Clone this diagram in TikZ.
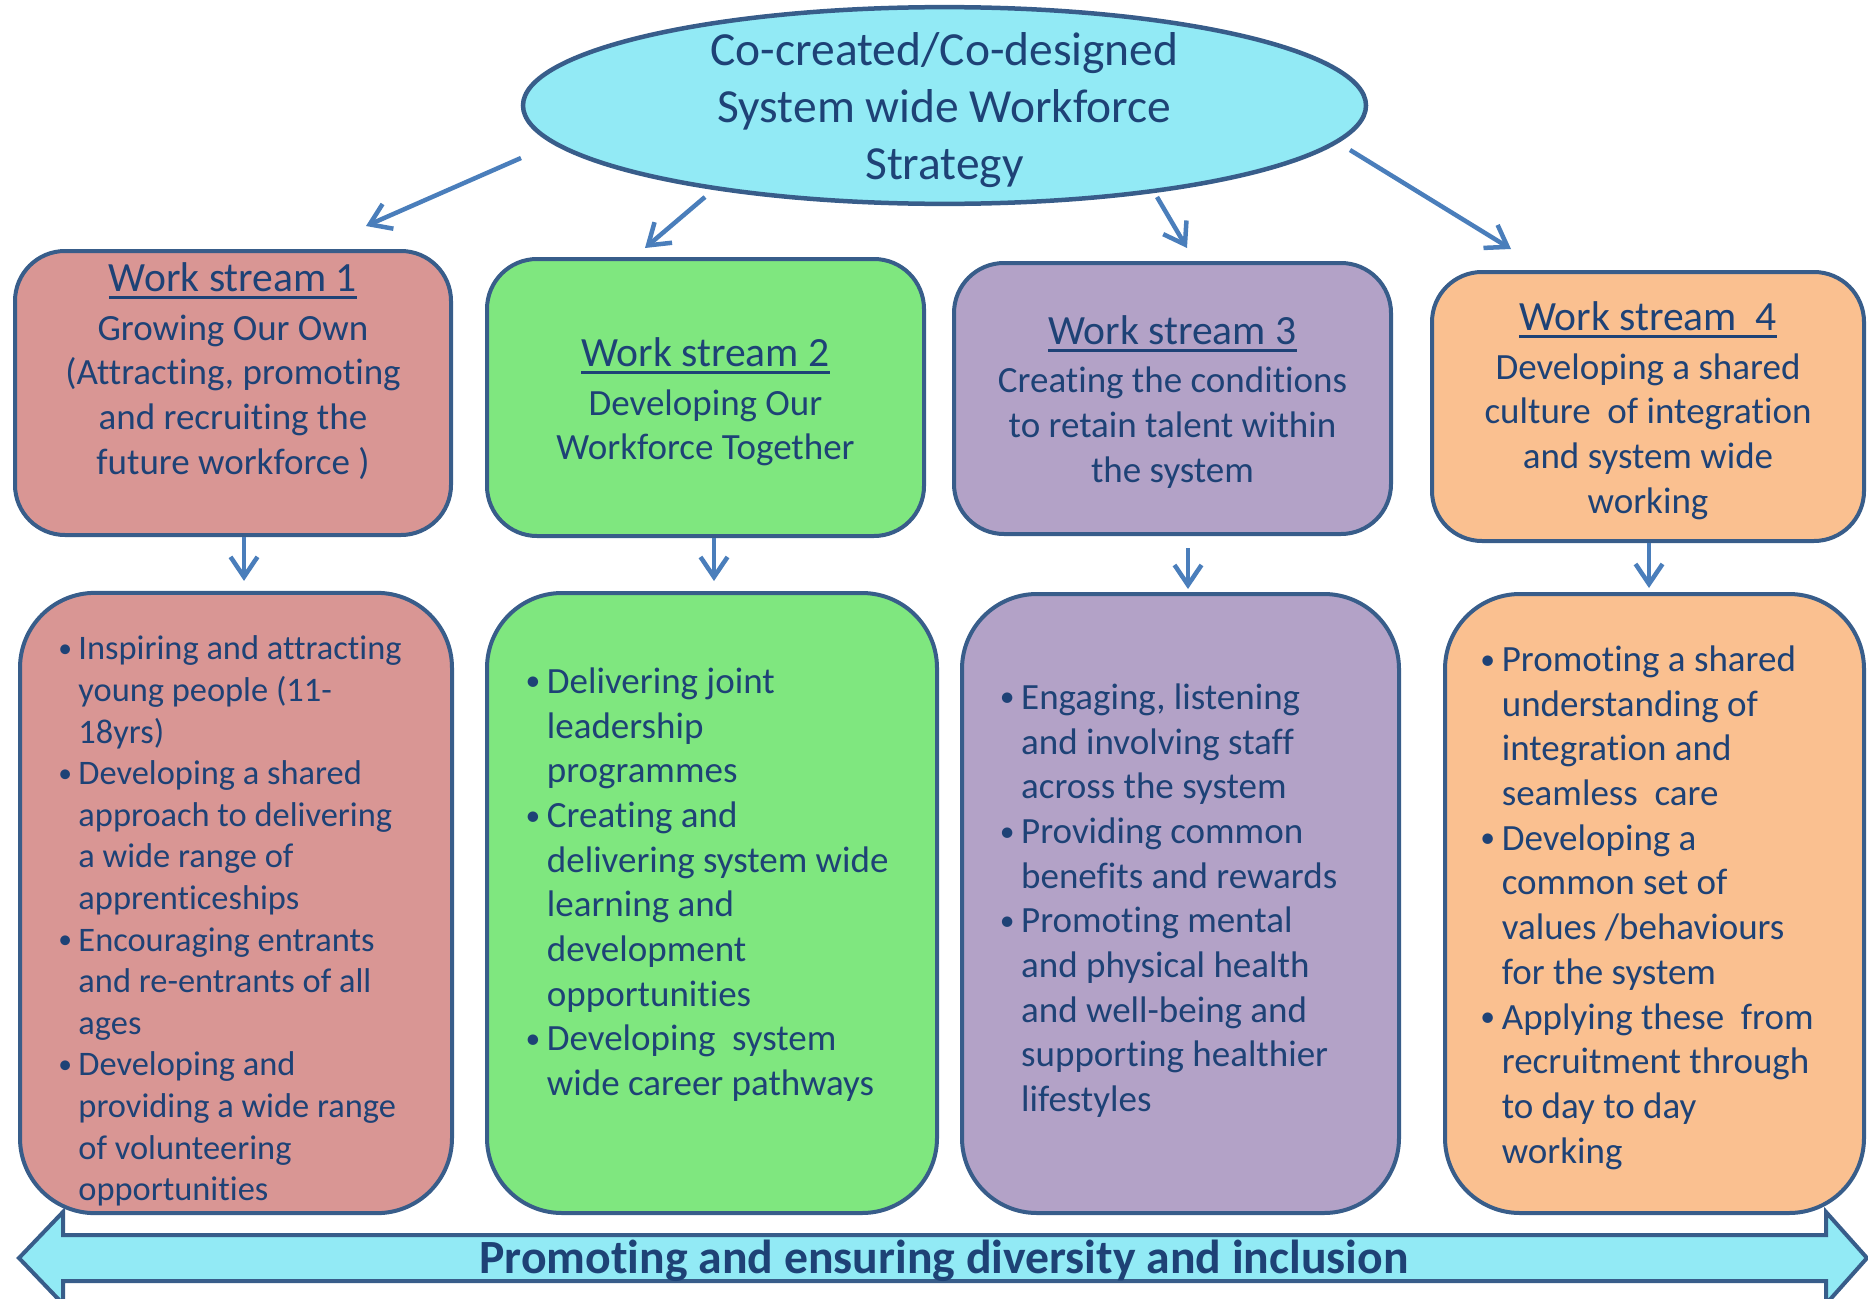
\documentclass[tikz,border=0pt]{standalone}
\usepackage{fontspec}
\usepackage{graphicx}
\setmainfont{Carlito}[Ligatures=NoCommon]
\usetikzlibrary{arrows.meta,shapes.geometric}

\definecolor{edge}{RGB}{56,93,138}
\definecolor{ink}{RGB}{30,66,118}
\definecolor{flowblue}{RGB}{74,126,187}
\definecolor{skyfill}{RGB}{146,234,245}
\definecolor{rosefill}{RGB}{217,150,148}
\definecolor{greenfill}{RGB}{127,231,127}
\definecolor{lilacfill}{RGB}{179,162,199}
\definecolor{peachfill}{RGB}{250,192,144}

\newcommand\wstitle[1]{{\fontsize{41.6}{49}\selectfont\setbox0\hbox{#1}\rlap{\rule[-7.5pt]{\wd0}{3pt}}\box0}}
\newcommand\bul{\rlap{\hspace{-2pt}\raisebox{2.4pt}{\scalebox{0.8}{\textbullet}}}\phantom{\textbullet}}

\begin{document}
\begin{tikzpicture}[x=1pt, y=-1pt,
	strategy/.style={ellipse, draw=edge, fill=skyfill, line width=4.5pt, inner xsep=0pt, inner ysep=-22pt, text=ink, font=\fontsize{47.5}{57}\selectfont},
	streambox/.style={rectangle, rounded corners=50pt, draw=edge, line width=4pt, inner sep=0pt, text=ink, font=\fontsize{37}{44.7}\selectfont},
	detailbox/.style={rectangle, rounded corners=75pt, draw=edge, line width=4pt, inner sep=0pt, text=ink, font=\fontsize{37}{44.7}\selectfont},
	flow/.style={draw=flowblue, line width=4.5pt, -{Straight Barb[length=20pt,width=27pt]}},
	banner/.style={draw=edge, fill=skyfill, line width=4pt},
	]
	\useasboundingbox (0,0) rectangle (1868,1298);
	
	%Nodes
	\node[strategy, minimum width=843pt, minimum height=195pt] (strat) at (944.5,105.5)
		{\begin{tabular}{@{}c@{}}\rule{0pt}{52pt}Co-created/Co-designed\\ System wide Workforce\\ Strategy\end{tabular}};
	
	\node[streambox, fill=rosefill, minimum width=436pt, minimum height=284pt] (ws1) at (233,393)
		{\begin{tabular}{@{}c@{}}\wstitle{Work stream 1}\\[4pt] Growing Our Own\\ (Attracting, promoting\\ and recruiting the\\ future workforce )\\[38pt]\end{tabular}};
	\node[streambox, fill=greenfill, minimum width=437pt, minimum height=277pt] (ws2) at (705.5,397.5)
		{\begin{tabular}{@{}c@{}}\rule{0pt}{45pt}\wstitle{Work stream 2}\\[4pt] Developing Our\\ Workforce Together\end{tabular}};
	\node[streambox, fill=lilacfill, minimum width=437pt, minimum height=271pt] (ws3) at (1172.5,398.5)
		{\begin{tabular}{@{}c@{}}\rule{0pt}{43pt}\wstitle{Work stream 3}\\[4pt] Creating the conditions\\ to retain talent within\\ the system\end{tabular}};
	\node[streambox, fill=peachfill, minimum width=432pt, minimum height=269pt] (ws4) at (1648,406.5)
		{\begin{tabular}{@{}c@{}}\rule{0pt}{44pt}\wstitle{Work stream~ 4}\\[4pt] Developing a shared\\ culture~ of integration\\ and system wide\\ working\end{tabular}};
	
	\node[detailbox, fill=rosefill, minimum width=432pt, minimum height=620pt, font=\fontsize{34.4}{41.6}\selectfont] (det1) at (236,903)
		{\begin{tabular}{@{}l@{\hspace{1pt}}l@{\hspace{10pt}}}
		\rule{0pt}{67pt}\bul & Inspiring and attracting\\ & young people (11-\\ & 18yrs)\\
		\bul & Developing a shared\\ & approach to delivering\\ & a wide range of\\ & apprenticeships\\
		\bul & Encouraging entrants\\ & and re-entrants of all\\ & ages\\
		\bul & Developing and\\ & providing a wide range\\ & of volunteering\\ & opportunities
		\end{tabular}};
	\node[detailbox, fill=greenfill, minimum width=450pt, minimum height=620pt] (det2) at (712,903)
		{\begin{tabular}{@{}l@{\hspace{1pt}}l@{\hspace{8pt}}}
		\bul & Delivering joint\\ & leadership\\ & programmes\\
		\bul & Creating and\\ & delivering system wide\\ & learning and\\ & development\\ & opportunities\\
		\bul & Developing~ system\\ & wide career pathways\\[35pt]
		\end{tabular}};
	\node[detailbox, fill=lilacfill, minimum width=437pt, minimum height=619pt] (det3) at (1180.5,903.5)
		{\begin{tabular}{@{}l@{\hspace{1pt}}l@{\hspace{22pt}}}
		\bul & Engaging, listening\\ & and involving staff\\ & across the system\\
		\bul & Providing common\\ & benefits and rewards\\
		\bul & Promoting mental\\ & and physical health\\ & and well-being and\\ & supporting healthier\\ & lifestyles\\[4pt]
		\end{tabular}};
	\node[detailbox, fill=peachfill, minimum width=419pt, minimum height=619pt] (det4) at (1654.5,903.5)
		{\begin{tabular}{@{}l@{\hspace{1pt}}l@{\hspace{13pt}}}
		\rule{0pt}{41pt}\bul & Promoting a shared\\ & understanding of\\ & integration and\\ & seamless~ care\\
		\bul & Developing a\\ & common set of\\ & values /behaviours\\ & for the system\\
		\bul & Applying these~ from\\ & recruitment through\\ & to day to day\\ & working
		\end{tabular}};
	
	%Banner
	\draw[banner] (19,1258) -- (63,1212) -- (63,1235) -- (1826,1235) -- (1826,1212) -- (1867,1258)
		-- (1826,1304) -- (1826,1281) -- (63,1281) -- (63,1304) -- cycle;
	\node[anchor=base, inner sep=0pt, text=ink, font=\fontsize{47.7}{57}\selectfont\bfseries] (div) at (944,1273)
		{Promoting and ensuring diversity and inclusion};
	
	%Lines
	\coordinate (f1s) at (521,158);  \coordinate (f1e) at (366,226);
	\coordinate (f2s) at (705,197);  \coordinate (f2e) at (645,248);
	\coordinate (f3s) at (1157,197); \coordinate (f3e) at (1187,248);
	\coordinate (f4s) at (1350,150); \coordinate (f4e) at (1511,249);
	\draw[flow] (f1s) -- (f1e);
	\draw[flow] (f2s) -- (f2e);
	\draw[flow] (f3s) -- (f3e);
	\draw[flow] (f4s) -- (f4e);
	
	\draw[flow, shorten >=10pt] ([xshift=11pt]ws1.south) -- ([xshift=11pt]ws1.south |- det1.north);
	\draw[flow, shorten >=10pt] ([xshift=8.5pt]ws2.south) -- ([xshift=8.5pt]ws2.south |- det2.north);
	\draw[flow, shorten <=12pt, shorten >=3pt] ([xshift=15.5pt]ws3.south) -- ([xshift=15.5pt]ws3.south |- det3.north);
	\draw[flow, shorten >=4pt] ([xshift=1pt]ws4.south) -- ([xshift=1pt]ws4.south |- det4.north);
	
\end{tikzpicture}
\end{document}
